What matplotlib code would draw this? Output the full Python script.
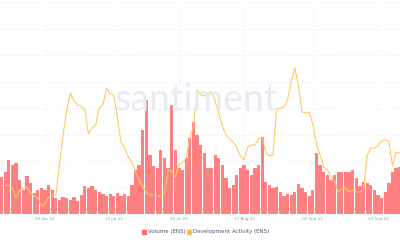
import datetime as dt

import matplotlib
matplotlib.use("Agg")
import matplotlib.pyplot as plt
import matplotlib.dates as mdates
import numpy as np

start_date = dt.date(2022, 6, 11)

# ENS daily volume (millions USD)
volume = [3.7, 4.2, 5.4, 4.9, 5.1, 3.4, 2.4, 3.8, 3.1, 2.1,
          2.4, 2.6, 2.4, 2.9, 2.4, 1.6, 1.4, 1.7, 1.6, 1.4,
          1.7, 1.3, 1.9, 2.8, 2.6, 2.8, 2.4, 2.2, 2.0, 1.8,
          2.0, 1.8, 2.1, 1.8, 2.0, 1.8, 2.9, 4.4, 4.9, 8.4,
          11.4, 5.9, 4.8, 4.6, 6.4, 5.6, 4.6, 10.9, 6.4, 4.6,
          4.4, 5.6, 7.6, 9.2, 7.9, 6.9, 6.1, 4.6, 4.6, 5.9,
          5.6, 4.9, 3.6, 2.6, 2.9, 3.9, 4.6, 4.9, 4.4, 3.9,
          4.6, 4.9, 7.7, 3.2, 2.9, 2.6, 2.7, 2.2, 1.8, 2.0,
          1.9, 2.2, 3.0, 2.6, 2.2, 1.8, 2.4, 6.1, 4.9, 4.2,
          3.9, 3.4, 3.9, 4.2, 4.2, 4.2, 4.2, 4.4, 3.6, 2.8,
          3.2, 3.1, 2.9, 2.4, 1.9, 1.6, 2.2, 3.1, 4.2, 4.6,
          4.7]

# ENS development activity
dev_activity = [28, 29, 28, 26, 16, 24, 26, 27, 21, 18,
                16, 8, 10, 17, 18, 19, 49, 79, 104, 121,
                113, 109, 108, 104, 80, 86, 89, 106, 109, 126,
                120, 119, 97, 72, 66, 57, 52, 42, 34, 28,
                21, 19, 19, 18, 18, 20, 44, 43, 37, 50,
                51, 56, 76, 87, 124, 119, 118, 121, 122, 113,
                100, 88, 79, 75, 72, 66, 58, 54, 67, 69,
                69, 75, 77, 61, 58, 59, 105, 106, 107, 114,
                132, 146, 129, 102, 101, 102, 89, 70, 59, 47,
                44, 38, 33, 22, 25, 26, 22, 24, 22, 22,
                24, 59, 66, 66, 68, 73, 74, 73, 48, 62,
                61]

tick_dates = ["2022-06-23", "2022-07-12", "2022-07-30",
              "2022-08-17", "2022-09-05", "2022-09-23"]
tick_labels = ["23 Jun 22", "12 Jul 22", "30 Jul 22",
               "17 Aug 22", "05 Sep 22", "23 Sep 22"]


def main():
    dates = [start_date + dt.timedelta(days=i) for i in range(len(volume))]
    x = mdates.date2num(dates)

    fig = plt.figure(figsize=(4, 2.4), dpi=100)
    ax = fig.add_axes([0, 26 / 240, 1, 212 / 240])
    ax2 = ax.twinx()

    ax.bar(x, volume, width=0.9, color="#ff8080", linewidth=0, zorder=2)
    ax2.plot(x, dev_activity, color="#ffc963", linewidth=0.8, zorder=3)

    ax.set_xlim(x[0] - 0.43, x[0] + 110.07)
    ax.set_ylim(0, 21.2)
    ax2.set_ylim(0, 212)

    ticks = mdates.date2num([dt.date.fromisoformat(d) for d in tick_dates])
    ax.set_xticks(ticks)
    ax.set_xticklabels(tick_labels, fontsize=3, color="#8f98ab")
    ax.set_yticks(np.arange(0, 21.3, 2.65))
    ax.tick_params(axis="x", length=0, pad=2)
    ax.tick_params(axis="y", length=0, labelleft=False)
    ax2.tick_params(axis="y", length=0, labelright=False)
    ax2.set_yticks([])

    ax.grid(True, color="#eceef3", linestyle=(0, (3, 3)), linewidth=0.5, zorder=0)
    ax.set_axisbelow(True)
    for a in (ax, ax2):
        for s in a.spines.values():
            s.set_visible(False)

    fig.text(0.49, 0.585, "santiment", fontsize=27, color="#e8ebf3",
             ha="center", va="center", family="Lato", zorder=0)

    # legend
    fig.patches.append(plt.Rectangle((142 / 400, 1 - 233.5 / 240), 4 / 400, 4 / 240,
                                     transform=fig.transFigure, color="#ff6b6b"))
    fig.text(148 / 400, 1 - 231.5 / 240, "Volume (ENS)", fontsize=4,
             color="#505a6e", va="center")
    fig.patches.append(plt.Rectangle((187 / 400, 1 - 233.5 / 240), 4 / 400, 4 / 240,
                                     transform=fig.transFigure, color="#ffc14d"))
    fig.text(193 / 400, 1 - 231.5 / 240, "Development Activity (ENS)", fontsize=4,
             color="#505a6e", va="center")

    plt.savefig("out.png", dpi=100)


if __name__ == "__main__":
    main()
